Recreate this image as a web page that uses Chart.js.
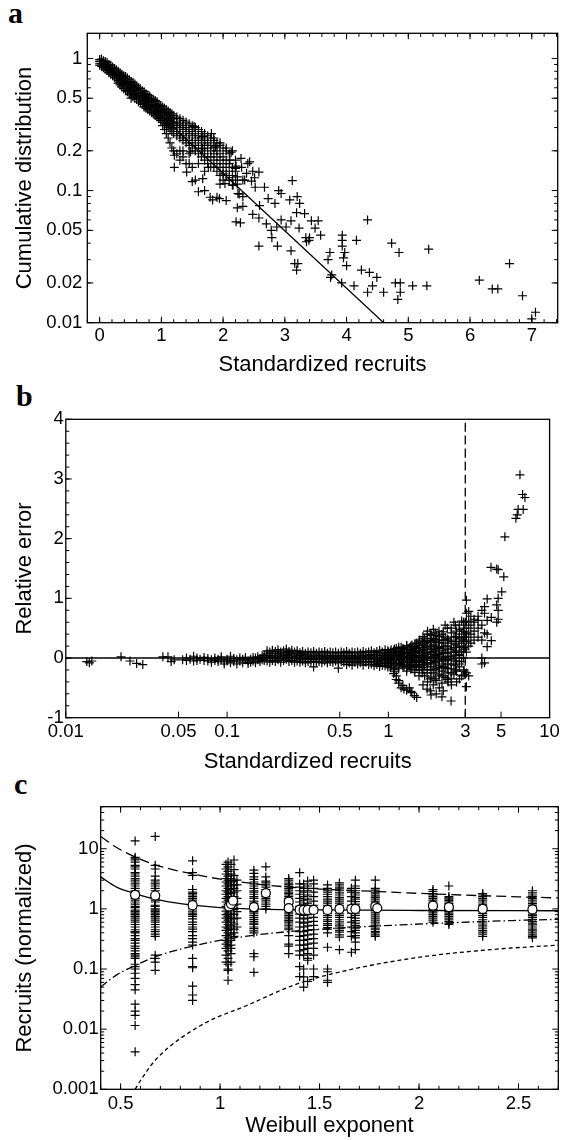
<!DOCTYPE html>
<html>
<head>
<meta charset="utf-8">
<script src="https://cdn.jsdelivr.net/npm/chart.js@4.4.0/dist/chart.umd.min.js"></script>
<style>
  body { margin: 0; background: #fff; }
  .panel { position: absolute; left: 0; }
  .tag { position: absolute; font: bold 30px "Liberation Serif", "Times New Roman", serif; line-height: 1; color: #000; }
</style>
</head>
<body>
<div class="tag" style="left:8px;top:-2px">a</div>
<div class="tag" style="left:16px;top:381px">b</div>
<div class="tag" style="left:14px;top:769px">c</div>
<div class="panel" style="top:0"><canvas id="chartA" width="564" height="380"></canvas></div>
<div class="panel" style="top:380px"><canvas id="chartB" width="564" height="400"></canvas></div>
<div class="panel" style="top:780px"><canvas id="chartC" width="564" height="360"></canvas></div>
<script>
// ---- panel a: cumulative distribution vs standardized recruits ----
const aTicksX = [0, 1, 2, 3, 4, 5, 6, 7];
const aTicksY = [0.01, 0.02, 0.05, 0.1, 0.2, 0.5, 1];
// dense band: x position and the y values stacked there
const aColX = [0, 0.03, 0.06, 0.09, 0.12, 0.15, 0.18, 0.21, 0.24, 0.27, 0.30, 0.33, 0.36, 0.39, 0.42,
  0.45, 0.48, 0.51, 0.54, 0.57, 0.60, 0.63, 0.66, 0.69, 0.72, 0.75, 0.78, 0.81, 0.84, 0.87, 0.90, 0.93,
  0.96, 0.99, 1.02, 1.05, 1.08, 1.11, 1.14, 1.17, 1.20, 1.25, 1.30, 1.35, 1.40, 1.45, 1.50, 1.55, 1.60,
  1.65, 1.70, 1.75, 1.80, 1.85, 1.90, 1.95, 2.00, 2.05, 2.10, 2.15, 2.20];
const aColY = [
  [0.98, 0.95, 0.92, 0.89], [0.99, 0.95, 0.91, 0.87], [0.96, 0.92, 0.88, 0.85], [0.95, 0.9, 0.86, 0.83],
  [0.93, 0.89, 0.85, 0.81], [0.9, 0.86, 0.82, 0.78], [0.89, 0.84, 0.8, 0.76], [0.86, 0.82, 0.78, 0.74],
  [0.84, 0.8, 0.76, 0.72], [0.82, 0.78, 0.74, 0.7], [0.8, 0.76, 0.72, 0.68, 0.65], [0.78, 0.74, 0.7, 0.66, 0.63],
  [0.76, 0.72, 0.68, 0.64, 0.61], [0.74, 0.7, 0.66, 0.63, 0.59], [0.73, 0.69, 0.65, 0.61, 0.57],
  [0.71, 0.67, 0.63, 0.59, 0.56], [0.69, 0.65, 0.61, 0.58, 0.54], [0.67, 0.63, 0.6, 0.56, 0.53, 0.5],
  [0.66, 0.62, 0.58, 0.55, 0.51], [0.64, 0.6, 0.57, 0.53, 0.5], [0.62, 0.58, 0.55, 0.52, 0.49],
  [0.6, 0.57, 0.54, 0.5, 0.47], [0.59, 0.55, 0.52, 0.49, 0.46], [0.57, 0.54, 0.51, 0.48, 0.45],
  [0.56, 0.52, 0.49, 0.46, 0.43], [0.54, 0.51, 0.48, 0.45, 0.42], [0.53, 0.5, 0.47, 0.44, 0.41],
  [0.52, 0.48, 0.45, 0.43, 0.4], [0.5, 0.47, 0.44, 0.42, 0.39], [0.49, 0.46, 0.43, 0.4, 0.38],
  [0.48, 0.45, 0.42, 0.39, 0.37], [0.47, 0.44, 0.41, 0.38, 0.36], [0.45, 0.43, 0.4, 0.37, 0.35],
  [0.44, 0.41, 0.39, 0.36, 0.34], [0.43, 0.4, 0.38, 0.35, 0.33, 0.31], [0.42, 0.39, 0.37, 0.34, 0.32, 0.29],
  [0.41, 0.38, 0.36, 0.33, 0.31, 0.27], [0.4, 0.37, 0.35, 0.32, 0.3, 0.25], [0.39, 0.36, 0.34, 0.31, 0.29, 0.23],
  [0.38, 0.35, 0.33, 0.3, 0.28, 0.21], [0.37, 0.35, 0.32, 0.3, 0.27, 0.2], [0.36, 0.33, 0.31, 0.28, 0.26, 0.19],
  [0.35, 0.32, 0.3, 0.27, 0.25, 0.17], [0.34, 0.31, 0.29, 0.26, 0.24, 0.2], [0.33, 0.3, 0.28, 0.25, 0.23, 0.16],
  [0.32, 0.29, 0.27, 0.24, 0.22, 0.19], [0.31, 0.28, 0.26, 0.23, 0.21, 0.15], [0.3, 0.27, 0.25, 0.22, 0.2],
  [0.29, 0.26, 0.24, 0.21, 0.19, 0.16], [0.28, 0.25, 0.23, 0.2, 0.18], [0.27, 0.24, 0.22, 0.19, 0.17, 0.14],
  [0.26, 0.23, 0.21, 0.18, 0.16], [0.25, 0.22, 0.2, 0.18, 0.15], [0.24, 0.21, 0.19, 0.17, 0.15],
  [0.23, 0.2, 0.18, 0.16, 0.14], [0.22, 0.19, 0.17, 0.15, 0.13], [0.21, 0.18, 0.16, 0.14, 0.12],
  [0.2, 0.17, 0.15, 0.13], [0.19, 0.16, 0.14, 0.12], [0.2, 0.15, 0.13, 0.11], [0.17, 0.14, 0.12]
];
// scattered points beyond the band
const aScatter = [
  [1.53, 0.305], [1.67, 0.256], [1.85, 0.25], [1.88, 0.214], [1.67, 0.208], [1.47, 0.196], [1.35, 0.18],
  [1.21, 0.185], [1.21, 0.15], [1.41, 0.138], [1.5, 0.117], [1.67, 0.123], [1.79, 0.089], [1.9, 0.089],
  [2.05, 0.084], [1.95, 0.112], [1.76, 0.15], [2.0, 0.134], [2.11, 0.17], [2.2, 0.147], [2.23, 0.127],
  [2.23, 0.112], [2.26, 0.094], [2.23, 0.074], [2.28, 0.057], [2.4, 0.16], [2.35, 0.12], [2.46, 0.118],
  [2.58, 0.138], [2.52, 0.106], [1.81, 0.27], [1.95, 0.23], [2.05, 0.21], [2.13, 0.195], [2.29, 0.175],
  [2.21, 0.153], [2.32, 0.12], [2.16, 0.11], [2.03, 0.113], [1.94, 0.087], [1.83, 0.085], [2.24, 0.095],
  [2.32, 0.09], [2.32, 0.076], [2.1, 0.125], [2.38, 0.135], [2.3, 0.15], [1.7, 0.1], [1.6, 0.098],
  [1.55, 0.12], [1.45, 0.16], [1.3, 0.2],
  [2.43, 0.165], [2.48, 0.14], [2.51, 0.125], [2.67, 0.106], [2.9, 0.1], [2.94, 0.095], [3.12, 0.119],
  [3.08, 0.085], [3.2, 0.09], [3.24, 0.08], [2.84, 0.08], [2.73, 0.087], [2.59, 0.077], [2.48, 0.066],
  [2.58, 0.062], [2.7, 0.056], [2.78, 0.05], [2.87, 0.053], [2.94, 0.06], [3.02, 0.053], [3.1, 0.059],
  [3.19, 0.068], [3.32, 0.067], [3.23, 0.052], [3.34, 0.044], [3.4, 0.044], [3.43, 0.059], [3.49, 0.052],
  [3.54, 0.059], [3.58, 0.046], [3.39, 0.042], [3.35, 0.041], [3.1, 0.035], [3.16, 0.028], [3.21, 0.028],
  [3.19, 0.025], [2.79, 0.044], [2.88, 0.038], [2.58, 0.038], [2.21, 0.058], [3.7, 0.03], [3.73, 0.034],
  [3.76, 0.023], [3.74, 0.022], [3.93, 0.046], [3.93, 0.042], [3.93, 0.038], [3.97, 0.034], [3.95, 0.031],
  [4.0, 0.027], [3.92, 0.02], [4.16, 0.042], [4.12, 0.019], [4.24, 0.025], [4.37, 0.024], [4.42, 0.019],
  [4.49, 0.022], [4.34, 0.017], [4.34, 0.06], [4.6, 0.017], [4.73, 0.04], [4.85, 0.034], [4.79, 0.02],
  [4.87, 0.02], [4.87, 0.017], [4.83, 0.015], [5.07, 0.019], [5.3, 0.019], [5.33, 0.036], [6.15, 0.021],
  [6.36, 0.018], [6.45, 0.018], [6.64, 0.028], [6.85, 0.016], [7.0, 0.0107], [7.06, 0.012]
];
const aFitX = [0, 4.6];
const aFitY = [1, 0.01];

// ---- panel b: relative error vs standardized recruits ----
const bTicksX = [0.01, 0.05, 0.1, 0.5, 1, 3, 5, 10];
const bTicksY = [-1, 0, 1, 2, 3, 4];
// low end and the scattered region above 1
const bColX = [0.0135, 0.014, 0.0145, 0.022, 0.025, 0.0275, 0.030, 0.040, 0.043, 0.045, 0.047, 0.053,
  0.056, 0.059, 0.062, 0.065, 0.068, 0.072, 0.076, 0.08, 0.084, 0.088, 0.092, 0.096, 0.10, 0.105, 0.11,
  0.115, 0.12, 0.125, 0.13, 0.135, 0.14, 0.145, 0.15, 0.155, 0.16, 0.165,
  1.0, 1.04, 1.08, 1.12, 1.16, 1.20, 1.25, 1.30, 1.35, 1.40, 1.45, 1.50, 1.56, 1.62, 1.68, 1.75,
  1.82, 1.90, 1.98, 2.06, 2.15, 2.25, 2.35, 2.45, 2.55, 2.65, 2.75, 2.85, 2.95, 3.05, 3.15, 3.25, 3.4,
  3.6, 3.8, 3.95, 4.1, 4.35, 4.7, 4.8];
const bColY = [
  [-0.06], [-0.08], [-0.05], [0.02], [-0.05], [-0.09], [-0.11], [0.02], [0.02], [-0.06], [-0.03], [-0.03],
  [-0.04, 0.0], [-0.02], [0.03, -0.05], [0.0, -0.04], [-0.02], [-0.04, 0.01], [-0.05, -0.01], [-0.03, -0.07],
  [0.0, -0.04], [-0.06, -0.02], [-0.03, 0.02], [-0.06, -0.1], [-0.02, -0.05], [0.03, -0.04, -0.08],
  [-0.01, -0.06], [-0.03, -0.1], [0.0, -0.05], [-0.02, -0.08], [-0.03, 0.01], [-0.05, -0.09], [-0.02, -0.07],
  [0.01, -0.05], [0.0, -0.08], [-0.03, 0.02], [-0.06, -0.01], [0.04, -0.03],
  [0.1, 0.03, -0.03, -0.1],
  [0.14, 0.07, 0.0, -0.06, -0.13], [0.12, 0.05, -0.02, -0.09, -0.2, -0.26],
  [0.16, 0.08, 0.01, -0.05, -0.12, -0.3, -0.36], [0.13, 0.06, -0.01, -0.08, -0.15, -0.42],
  [0.18, 0.1, 0.03, -0.04, -0.11, -0.5], [0.15, 0.08, 0.0, -0.07, -0.14, -0.52],
  [0.2, 0.12, 0.05, -0.02, -0.1, -0.17, -0.54], [0.17, 0.09, 0.02, -0.05, -0.13, -0.5],
  [0.22, 0.14, 0.06, -0.01, -0.08, -0.16, -0.58], [0.19, 0.11, 0.03, -0.04, -0.12, -0.2, -0.63],
  [0.25, 0.16, 0.08, 0.0, -0.07, -0.15, -0.66], [0.3, 0.21, 0.12, 0.04, -0.04, -0.11, -0.2],
  [0.27, 0.18, 0.09, 0.01, -0.07, -0.16, -0.25], [0.33, 0.24, 0.14, 0.05, -0.03, -0.12, -0.3],
  [0.45, 0.3, 0.2, 0.1, 0.02, -0.08, -0.2, -0.4], [0.4, 0.26, 0.15, 0.06, -0.04, -0.15, -0.35, -0.55],
  [0.48, 0.33, 0.22, 0.1, 0.0, -0.1, -0.25, -0.45], [0.38, 0.27, 0.15, 0.04, -0.06, -0.18, -0.38, -0.6],
  [0.45, 0.3, 0.18, 0.07, -0.03, -0.13, -0.3], [0.4, 0.25, 0.12, 0.02, -0.1, -0.22, -0.42, -0.65],
  [0.55, 0.35, 0.2, 0.08, -0.05, -0.16, -0.33], [0.3, 0.15, 0.03, -0.1, -0.25, -0.4],
  [0.5, 0.25, 0.1, -0.02, -0.18, -0.35, -0.72], [0.6, 0.35, 0.18, 0.05, -0.12, -0.28],
  [0.45, 0.28, 0.12, -0.05, -0.22, -0.4], [0.55, 0.35, 0.2, 0.04, -0.15], [0.62, 0.4, 0.25, 0.1, -0.06, -0.3],
  [0.5, 0.35, 0.18, -0.2, -0.28], [0.97, 0.75, 0.6, 0.42, 0.28, 0.1, -0.25, -0.48],
  [0.78, 0.62, 0.5, 0.35, 0.2, -0.3], [0.7, 0.55, 0.4, 0.25], [0.65, 0.6, 0.45, 0.3],
  [0.7, 0.63, 0.5, 0.35], [0.8, 0.55, 0.3, -0.1, 0.0], [0.86, 0.75, 0.42, -0.08], [0.99, 0.63, 0.4, 0.19],
  [0.68, 0.29], [1.49, 0.89, 0.6], [1.48, 1.0, 0.8, 0.65]
];
// the dense band between about 0.17 and 1
const bBandX = [0.17, 0.177, 0.184, 0.191, 0.199, 0.207, 0.215, 0.224, 0.233, 0.242, 0.252, 0.262, 0.272,
  0.283, 0.294, 0.306, 0.318, 0.331, 0.344, 0.358, 0.372, 0.387, 0.403, 0.419, 0.436, 0.453, 0.471, 0.49,
  0.51, 0.53, 0.551, 0.573, 0.596, 0.62, 0.645, 0.671, 0.698, 0.726, 0.755, 0.785, 0.816, 0.849, 0.883,
  0.918, 0.955, 0.993, 1.03, 1.09, 1.16, 1.23, 1.3, 1.38, 1.46, 1.55, 1.64, 1.74, 1.84, 1.95, 2.07, 2.19,
  2.32, 2.46, 2.61, 2.76, 2.93];
const bBandY = [
  [0.05, 0.0, -0.04], [0.12, 0.07, 0.02, -0.05], [0.1, 0.04, -0.01, -0.07], [0.13, 0.08, 0.02, -0.04],
  [0.11, 0.05, 0.0, -0.06], [0.14, 0.08, 0.03, -0.03], [0.1, 0.05, -0.01, -0.07], [0.12, 0.07, 0.02, -0.04],
  [0.15, 0.09, 0.04, -0.02], [0.11, 0.06, 0.0, -0.06], [0.13, 0.08, 0.02, -0.04], [0.1, 0.05, -0.01, -0.07],
  [0.12, 0.07, 0.02, -0.05], [0.09, 0.04, -0.02, -0.07], [0.11, 0.06, 0.0, -0.05], [0.08, 0.03, -0.02, -0.08],
  [0.1, 0.05, 0.0, -0.06], [0.09, 0.03, -0.02, -0.07], [0.11, 0.05, 0.0, -0.05, -0.15],
  [0.08, 0.03, -0.02, -0.07], [0.1, 0.05, -0.01, -0.06], [0.09, 0.03, -0.02, -0.08], [0.11, 0.05, 0.0, -0.05],
  [0.08, 0.02, -0.03, -0.08], [0.1, 0.04, -0.01, -0.06], [0.09, 0.03, -0.02, -0.07], [0.1, 0.05, 0.0, -0.05],
  [0.08, 0.02, -0.03, -0.08, -0.17], [0.1, 0.04, -0.01, -0.06], [0.09, 0.03, -0.02, -0.07],
  [0.11, 0.05, 0.0, -0.05, -0.11], [0.08, 0.02, -0.03, -0.08], [0.1, 0.04, -0.01, -0.06, -0.12],
  [0.09, 0.03, -0.02, -0.07], [0.1, 0.05, 0.0, -0.05, -0.1], [0.08, 0.02, -0.03, -0.08],
  [0.11, 0.05, -0.01, -0.06, -0.12], [0.09, 0.03, -0.02, -0.07], [0.1, 0.04, -0.01, -0.06, -0.11],
  [0.12, 0.06, 0.0, -0.05, -0.1], [0.09, 0.03, -0.02, -0.07, -0.13], [0.11, 0.05, -0.01, -0.06, -0.11],
  [0.13, 0.07, 0.01, -0.04, -0.09, -0.14], [0.1, 0.04, -0.02, -0.07, -0.12],
  [0.14, 0.08, 0.02, -0.03, -0.08, -0.13], [0.12, 0.06, 0.0, -0.05, -0.1, -0.15],
  [0.1, 0.04, -0.02, -0.08, -0.16], [0.15, 0.09, 0.03, -0.03, -0.1, -0.17, -0.23],
  [0.18, 0.11, 0.04, -0.02, -0.09, -0.18, -0.38], [0.16, 0.09, 0.02, -0.05, -0.13, -0.46],
  [0.21, 0.14, 0.07, 0.0, -0.07, -0.15, -0.22], [0.2, 0.12, 0.04, -0.03, -0.11, -0.19, -0.56],
  [0.24, 0.16, 0.08, 0.01, -0.06, -0.14, -0.24], [0.27, 0.18, 0.1, 0.02, -0.06, -0.14, -0.3],
  [0.36, 0.22, 0.13, 0.05, -0.03, -0.1, -0.2, -0.45], [0.4, 0.27, 0.17, 0.08, 0.0, -0.1, -0.25, -0.52],
  [0.38, 0.29, 0.19, 0.1, 0.01, -0.08, -0.2, -0.32, -0.62], [0.42, 0.31, 0.2, 0.12, 0.03, -0.07, -0.2, -0.35],
  [0.36, 0.26, 0.16, 0.06, -0.05, -0.16, -0.27, -0.5], [0.44, 0.3, 0.19, 0.09, -0.02, -0.14, -0.3, -0.55],
  [0.5, 0.32, 0.2, 0.08, -0.04, -0.18, -0.36], [0.42, 0.28, 0.15, 0.03, -0.1, -0.25, -0.45],
  [0.55, 0.36, 0.22, 0.1, -0.05, -0.2], [0.48, 0.32, 0.18, 0.06, -0.1, -0.35],
  [0.6, 0.45, 0.3, 0.15, 0.0, -0.22]
];
const bTail = [
  [4.33, 1.52], [5.05, 1.11], [5.2, 1.36], [5.28, 2.03], [6.18, 2.34], [6.3, 2.4], [6.38, 2.49],
  [6.86, 2.49], [6.55, 3.07], [6.8, 2.74], [7.03, 2.69]
];
const bZeroX = [0.01, 10];
const bZeroY = [0, 0];
const bCutX = [3, 3];
const bCutY = [-1, 4];

// ---- panel c: normalized recruits vs Weibull exponent ----
const cTicksX = [0.5, 1, 1.5, 2, 2.5];
const cTicksY = [0.001, 0.01, 0.1, 1, 10];
const cColX = [0.573, 0.674, 0.862, 1.03, 1.04, 1.055, 1.07, 1.085, 1.17, 1.23, 1.345, 1.40, 1.42, 1.44,
  1.47, 1.54, 1.60, 1.66, 1.68, 1.78, 2.07, 2.15, 2.32, 2.57];
const cColY = [
  [13.5, 7.2, 6.8, 6.5, 6.0, 5.3, 5.0, 4.6, 4.0, 3.8, 3.5, 3.2, 3.0, 2.8, 2.6, 2.4, 2.2, 2.0, 1.9, 1.75, 1.6,
    1.5, 1.4, 1.3, 1.2, 1.1, 1.05, 0.95, 0.9, 0.85, 0.8, 0.75, 0.7, 0.65, 0.6, 0.55, 0.5, 0.45, 0.42, 0.4,
    0.36, 0.32, 0.3, 0.27, 0.24, 0.22, 0.2, 0.18, 0.17, 0.16, 0.15, 0.12, 0.11, 0.1, 0.085, 0.07, 0.055,
    0.045, 0.026, 0.02, 0.017, 0.0115, 0.0042],
  [16, 5.3, 4.6, 3.5, 3.0, 2.8, 2.6, 2.4, 2.2, 2.0, 1.8, 1.65, 1.5, 1.4, 1.3, 1.15, 1.1, 1.0, 0.95, 0.9,
    0.85, 0.8, 0.75, 0.7, 0.65, 0.6, 0.55, 0.5, 0.45, 0.42, 0.38, 0.35, 0.17, 0.15, 0.13, 0.095],
  [6.3, 4.0, 3.6, 2.1, 1.9, 1.8, 1.7, 1.6, 1.5, 1.4, 1.3, 1.2, 1.1, 1.0, 0.92, 0.85, 0.8, 0.75, 0.68, 0.6,
    0.55, 0.5, 0.46, 0.42, 0.36, 0.32, 0.28, 0.25, 0.15, 0.11, 0.105, 0.052, 0.037, 0.03],
  [5.5, 4.6, 3.8, 3.2, 2.8, 2.4, 2.0, 1.75, 1.5, 1.3, 1.1, 0.92, 0.8, 0.7, 0.6, 0.5, 0.44, 0.36, 0.3,
    0.26, 0.22, 0.17, 0.13],
  [6.0, 5.0, 4.2, 3.5, 3.0, 2.6, 2.2, 1.9, 1.6, 1.4, 1.2, 1.0, 0.85, 0.75, 0.65, 0.55, 0.48, 0.4, 0.33,
    0.28, 0.24, 0.2, 0.15, 0.12, 0.1, 0.095, 0.065],
  [5.5, 3.8, 3.2, 2.8, 2.4, 2.1, 1.8, 1.5, 1.3, 1.1, 0.95, 0.8, 0.7, 0.6, 0.52, 0.45, 0.38, 0.3, 0.25,
    0.22, 0.18, 0.13],
  [6.5, 4.5, 3.6, 3.0, 2.5, 2.2, 1.9, 1.6, 1.35, 1.15, 0.98, 0.82, 0.68, 0.56, 0.46, 0.4, 0.35],
  [3.0, 2.5, 2.0, 1.5, 1.2, 0.9, 0.7, 0.5],
  [4.4, 3.9, 3.4, 3.1, 2.8, 2.6, 2.4, 2.2, 2.0, 1.9, 1.75, 1.6, 1.5, 1.35, 1.25, 1.15, 1.05, 0.95, 0.9,
    0.85, 0.78, 0.72, 0.67, 0.62, 0.58, 0.55, 0.5, 0.47, 0.43, 0.4, 0.18, 0.16, 0.088],
  [5.0, 3.4, 2.9, 2.7, 2.5, 2.3, 2.1, 1.9, 1.75, 1.6, 1.5, 1.4, 1.3, 1.2, 1.1, 1.0],
  [3.2, 3.0, 2.8, 2.6, 2.5, 2.35, 2.2, 2.05, 1.9, 1.8, 1.7, 1.6, 1.5, 1.4, 1.3, 1.22, 1.15, 1.08, 1.0, 0.94,
    0.88, 0.83, 0.78, 0.73, 0.68, 0.64, 0.6, 0.56, 0.52, 0.48, 0.45, 0.36, 0.26, 0.24, 0.18],
  [4.0, 2.6, 2.3, 2.0, 1.75, 1.5, 1.3, 1.1, 0.95, 0.82, 0.7, 0.6, 0.5, 0.42, 0.35, 0.3, 0.25, 0.2, 0.17,
    0.11, 0.075],
  [2.6, 2.2, 1.9, 1.6, 1.4, 1.2, 1.05, 0.9, 0.78, 0.68, 0.58, 0.5, 0.42, 0.36, 0.3, 0.25, 0.21, 0.17, 0.1,
    0.074, 0.05],
  [2.9, 2.4, 2.0, 1.7, 1.45, 1.25, 1.1, 0.95, 0.8, 0.7, 0.6, 0.52, 0.44, 0.37, 0.31, 0.26, 0.22, 0.18, 0.15,
    0.14, 0.062],
  [3.0, 2.6, 2.2, 1.9, 1.6, 1.35, 1.15, 1.0, 0.85, 0.72, 0.62, 0.53, 0.45, 0.38, 0.32, 0.27, 0.22, 0.17, 0.1, 0.075],
  [2.5, 2.2, 2.05, 1.9, 1.75, 1.6, 1.45, 1.35, 1.25, 1.15, 1.07, 1.0, 0.92, 0.85, 0.78, 0.72, 0.66, 0.62,
    0.57, 0.53, 0.49, 0.46, 0.4, 0.23, 0.1, 0.09, 0.065, 0.06],
  [2.7, 2.5, 2.3, 2.15, 2.0, 1.85, 1.7, 1.55, 1.45, 1.35, 1.25, 1.15, 1.05, 0.97, 0.9, 0.83, 0.78, 0.72,
    0.66, 0.61, 0.56, 0.52, 0.48, 0.44, 0.41, 0.37, 0.34, 0.21],
  [2.2, 1.9, 1.6, 1.35, 1.15, 1.0, 0.85, 0.72, 0.6, 0.5, 0.42, 0.35, 0.19],
  [3.0, 2.4, 2.2, 2.0, 1.85, 1.7, 1.55, 1.45, 1.32, 1.2, 1.1, 1.0, 0.92, 0.85, 0.78, 0.7, 0.64, 0.58, 0.53,
    0.48, 0.44, 0.4, 0.36, 0.33, 0.28, 0.21],
  [3.0, 2.2, 2.05, 1.9, 1.78, 1.65, 1.55, 1.45, 1.35, 1.25, 1.17, 1.1, 1.02, 0.95, 0.88, 0.82, 0.76, 0.7,
    0.65, 0.6, 0.56, 0.52, 0.48, 0.45, 0.42, 0.4, 0.37, 0.35],
  [2.1, 1.95, 1.8, 1.7, 1.6, 1.5, 1.4, 1.3, 1.2, 1.12, 1.05, 0.98, 0.92, 0.86, 0.8, 0.75, 0.7, 0.65, 0.6],
  [2.4, 1.6, 1.52, 1.45, 1.37, 1.3, 1.22, 1.15, 1.07, 1.0, 0.95, 0.9, 0.85, 0.8, 0.75, 0.7, 0.66, 0.62,
    0.58, 0.55],
  [1.8, 1.7, 1.6, 1.5, 1.4, 1.3, 1.2, 1.12, 1.05, 0.97, 0.9, 0.84, 0.78, 0.72, 0.66, 0.61, 0.56, 0.52,
    0.48, 0.44, 0.41, 0.38, 0.35],
  [2.0, 1.85, 1.7, 1.6, 1.5, 1.4, 1.3, 1.22, 1.15, 1.07, 1.0, 0.94, 0.88, 0.82, 0.77, 0.72, 0.67, 0.62,
    0.58, 0.54, 0.5, 0.46, 0.43, 0.4, 0.37, 0.35, 0.33]
];
// open circles (column medians)
const cMedX = [0.573, 0.674, 0.862, 1.045, 1.055, 1.065, 1.17, 1.23, 1.345, 1.345, 1.40, 1.42, 1.44, 1.47,
  1.54, 1.60, 1.66, 1.68, 1.78, 1.79, 2.07, 2.15, 2.32, 2.57];
const cMedY = [1.71, 1.67, 1.15, 1.1, 1.2, 1.37, 1.07, 1.83, 1.32, 1.03, 0.97, 0.96, 0.96, 0.96,
  0.96, 1.0, 1.0, 1.0, 1.1, 1.03, 1.13, 1.07, 1.0, 0.98];
const cSolidX = [0.4, 0.48, 0.573, 0.674, 0.76, 0.862, 1.0, 1.2, 1.5, 2.0, 2.7];
const cSolidY = [3.4, 2.3, 1.8, 1.45, 1.28, 1.15, 1.05, 0.99, 0.96, 0.94, 0.93];
const cUpperX = [0.4, 0.48, 0.573, 0.674, 0.862, 1.05, 1.345, 1.8, 2.15, 2.52, 2.7];
const cUpperY = [16, 10.5, 7.3, 5.4, 3.8, 2.95, 2.3, 1.94, 1.73, 1.58, 1.52];
const cLowerX = [0.4, 0.48, 0.573, 0.674, 0.862, 1.05, 1.345, 1.7, 2.06, 2.47, 2.7];
const cLowerY = [0.05, 0.08, 0.114, 0.16, 0.24, 0.32, 0.42, 0.5, 0.57, 0.64, 0.67];
const cFloorX = [0.573, 0.6, 0.68, 0.9, 1.15, 1.37, 1.65, 2.02, 2.36, 2.7];
const cFloorY = [0.001, 0.0014, 0.0032, 0.0114, 0.026, 0.054, 0.097, 0.16, 0.21, 0.25];

Chart.defaults.font.family = '"Liberation Sans", Arial, Helvetica, sans-serif';
Chart.defaults.color = '#000';

function columnPoints(xs, ys) {
  const pts = [];
  xs.forEach((x, i) => ys[i].forEach(y => pts.push({ x: x, y: y })));
  return pts;
}
function pairPoints(list) {
  return list.map(p => ({ x: p[0], y: p[1] }));
}
function zipPoints(xs, ys) {
  return xs.map((x, i) => ({ x: x, y: ys[i] }));
}
function range(from, to, step) {
  const out = [];
  for (let v = from; v <= to + 1e-9; v += step) out.push(Math.round(v * 1000) / 1000);
  return out;
}
function logMinors(lo, hi) {
  const out = [];
  for (let d = lo; d < hi; d *= 10) {
    for (let k = 2; k <= 9; k++) out.push(Math.round(k * d * 1e6) / 1e6);
  }
  return out;
}

// box frame plus inward tick marks, drawn from the chart's own scales
const frameTicks = {
  id: 'frameTicks',
  afterDatasetsDraw(chart, args, opts) {
    const { ctx, chartArea: a } = chart;
    const sx = chart.scales.x, sy = chart.scales.y;
    ctx.save();
    ctx.strokeStyle = '#000';
    ctx.lineWidth = 1;
    ctx.beginPath();
    const xMarks = (vals, len) => (vals || []).forEach(v => {
      const p = sx.getPixelForValue(v);
      if (p < a.left - 0.5 || p > a.right + 0.5) return;
      ctx.moveTo(p, a.bottom); ctx.lineTo(p, a.bottom - len);
      if (opts.allSides) { ctx.moveTo(p, a.top); ctx.lineTo(p, a.top + len); }
    });
    const yMarks = (vals, len) => (vals || []).forEach(v => {
      const p = sy.getPixelForValue(v);
      if (p < a.top - 0.5 || p > a.bottom + 0.5) return;
      ctx.moveTo(a.left, p); ctx.lineTo(a.left + len, p);
      if (opts.allSides) { ctx.moveTo(a.right, p); ctx.lineTo(a.right - len, p); }
    });
    xMarks(opts.xMajor, 6); xMarks(opts.xMinor, 3.5);
    yMarks(opts.yMajor, 6); yMarks(opts.yMinor, 3.5);
    ctx.stroke();
    ctx.lineWidth = 1.3;
    ctx.strokeRect(a.left, a.top, a.right - a.left, a.bottom - a.top);
    ctx.restore();
  }
};

function fixedTicks(values) {
  return scale => { scale.ticks = values.map(v => ({ value: v })); };
}

function axis(cfg) {
  return {
    type: cfg.type,
    min: cfg.min,
    max: cfg.max,
    afterBuildTicks: fixedTicks(cfg.ticks),
    afterFit: s => { if (cfg.width) s.width = cfg.width; if (cfg.height) s.height = cfg.height; },
    grid: { display: false, drawTicks: false },
    border: { display: false },
    ticks: {
      autoSkip: false, maxRotation: 0, padding: cfg.pad,
      font: { size: 18.5 }, color: '#000',
      callback: v => String(v)
    },
    title: {
      display: true, text: cfg.title, color: '#000',
      font: { size: 22 }, padding: cfg.titlePad
    }
  };
}

const crossStyle = {
  pointStyle: 'cross', pointRadius: 4.5, borderColor: '#000', borderWidth: 1.2,
  backgroundColor: '#000', showLine: false, order: 3
};
function lineStyle(dash) {
  return {
    showLine: true, pointRadius: 0, borderColor: '#000', backgroundColor: '#000',
    borderWidth: 1.3, borderDash: dash, cubicInterpolationMode: 'monotone', order: 1
  };
}

function baseOptions(pad, scales, ticks) {
  return {
    responsive: false, animation: false, events: [], devicePixelRatio: 1,
    layout: { padding: pad },
    plugins: { legend: { display: false }, tooltip: { enabled: false }, frameTicks: ticks },
    scales: scales
  };
}

// panel a
new Chart(document.getElementById('chartA'), {
  type: 'scatter',
  data: {
    datasets: [
      Object.assign({ data: columnPoints(aColX, aColY) }, crossStyle),
      Object.assign({ data: pairPoints(aScatter) }, crossStyle),
      Object.assign({ data: zipPoints(aFitX, aFitY) }, lineStyle([]))
    ]
  },
  options: baseOptions({ top: 33.3, right: 6.3, left: 0, bottom: 0 }, {
    x: axis({ type: 'linear', min: -0.2, max: 7.42, ticks: aTicksX, height: 57.3, pad: 2.6,
      title: 'Standardized recruits', titlePad: { top: 0, bottom: 1.8 } }),
    y: axis({ type: 'logarithmic', min: 0.01, max: 1.55, ticks: aTicksY, width: 87.3, pad: 5,
      title: 'Cumulative distribution', titlePad: { top: 11.8, bottom: 0 } })
  }, {
    allSides: true, xMajor: aTicksX, xMinor: range(-0.2, 7.4, 0.2),
    yMajor: aTicksY, yMinor: logMinors(0.01, 1)
  }),
  plugins: [frameTicks]
});

// panel b
new Chart(document.getElementById('chartB'), {
  type: 'scatter',
  data: {
    datasets: [
      Object.assign({ data: columnPoints(bColX, bColY) }, crossStyle),
      Object.assign({ data: columnPoints(bBandX, bBandY) }, crossStyle),
      Object.assign({ data: pairPoints(bTail) }, crossStyle),
      Object.assign({ data: zipPoints(bZeroX, bZeroY) }, lineStyle([])),
      Object.assign({ data: zipPoints(bCutX, bCutY) }, lineStyle([9, 4]))
    ]
  },
  options: baseOptions({ top: 39.3, right: 14.4, left: 0, bottom: 0 }, {
    x: axis({ type: 'logarithmic', min: 0.01, max: 10, ticks: bTicksX, height: 62.3, pad: 3.6,
      title: 'Standardized recruits', titlePad: { top: 0, bottom: 5.3 } }),
    y: axis({ type: 'linear', min: -1, max: 4, ticks: bTicksY, width: 65.8, pad: 2,
      title: 'Relative error', titlePad: { top: 11.8, bottom: 0 } })
  }, {
    allSides: false, xMajor: bTicksX, xMinor: [],
    yMajor: bTicksY, yMinor: range(-1, 4, 0.2)
  }),
  plugins: [frameTicks]
});

// panel c
new Chart(document.getElementById('chartC'), {
  type: 'scatter',
  data: {
    datasets: [
      Object.assign({ data: columnPoints(cColX, cColY) }, crossStyle),
      Object.assign({ data: zipPoints(cSolidX, cSolidY) }, lineStyle([])),
      Object.assign({ data: zipPoints(cUpperX, cUpperY) }, lineStyle([10, 5])),
      Object.assign({ data: zipPoints(cLowerX, cLowerY) }, lineStyle([8, 3, 1.5, 3])),
      Object.assign({ data: zipPoints(cFloorX, cFloorY) }, lineStyle([4, 3])),
      {
        data: zipPoints(cMedX, cMedY), pointStyle: 'circle', pointRadius: 4.5,
        backgroundColor: '#fff', borderColor: '#000', borderWidth: 1.2, showLine: false, order: 0
      }
    ]
  },
  options: baseOptions({ top: 26.7, right: 5.7, left: 0, bottom: 0 }, {
    x: axis({ type: 'linear', min: 0.4, max: 2.7, ticks: cTicksX, height: 50.7, pad: 4,
      title: 'Weibull exponent', titlePad: { top: 0, bottom: 0.8 } }),
    y: axis({ type: 'logarithmic', min: 0.001, max: 50, ticks: cTicksY, width: 100.7, pad: 2,
      title: 'Recruits (normalized)', titlePad: { top: 11.8, bottom: 0 } })
  }, {
    allSides: true, xMajor: cTicksX, xMinor: range(0.4, 2.7, 0.1),
    yMajor: cTicksY, yMinor: logMinors(0.001, 10).concat([20, 30, 40, 50])
  }),
  plugins: [frameTicks]
});
</script>
</body>
</html>
